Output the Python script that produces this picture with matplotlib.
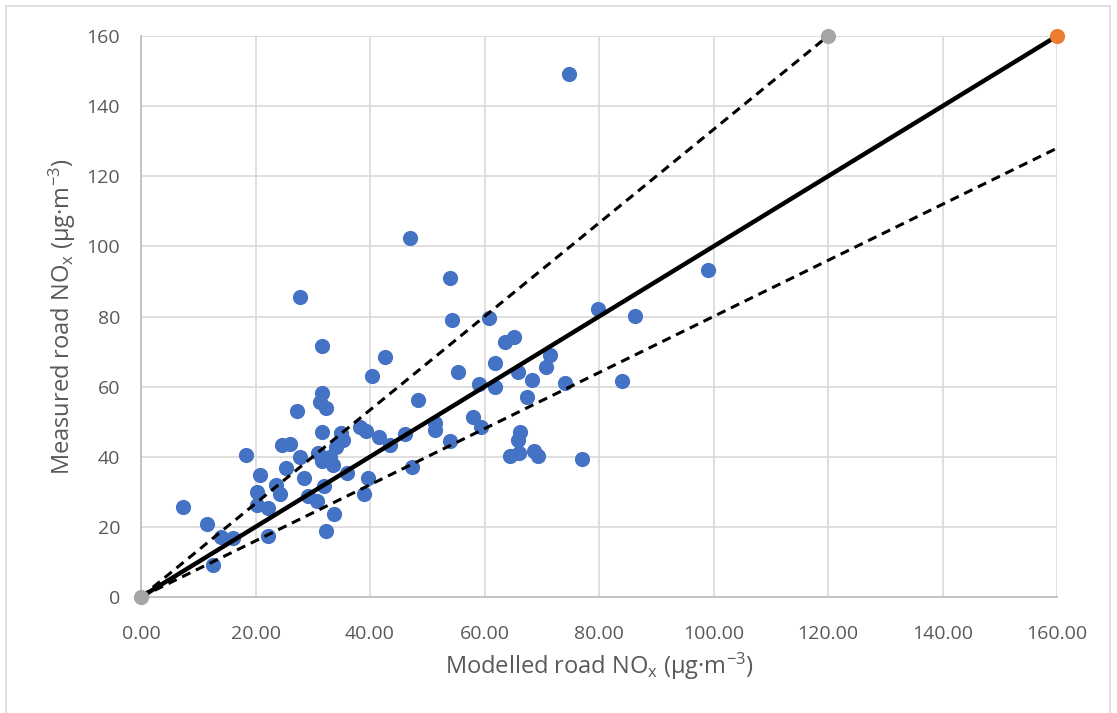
#!/usr/bin/env python3
"""Modelled vs measured road NOx scatter with 1:1 and factor lines."""

import matplotlib

matplotlib.use("Agg")
import matplotlib.pyplot as plt
from matplotlib.patches import Rectangle


modelled = [
    31.6, 42.6, 40.3, 55.4, 31.7, 31.3, 32.4, 27.2, 48.3, 31.6,
    34.9, 35.3, 34.1, 38.3, 39.3, 41.6, 43.5, 46.1, 51.4, 51.4,
    53.9, 24.6, 26.0, 18.3, 27.8, 31.0, 31.6, 33.0, 33.5, 25.4,
    20.8, 35.9, 28.5, 39.7, 32.0, 23.6, 20.3, 24.3, 29.2, 30.8,
    39.0, 47.3, 7.3, 20.2, 22.2, 11.5, 14.0, 16.1, 22.2, 33.7,
    32.3, 12.6, 32.4, 47.0, 53.9, 54.4, 60.8, 63.6, 65.2, 61.8,
    71.4, 70.7, 65.8, 68.3, 74.1, 59.1, 61.8, 67.4, 79.8, 86.3,
    99.1, 84.1, 58.0, 59.4, 66.2, 65.9, 64.5, 66.1, 68.6, 69.4,
    77.1, 27.8, 74.8,
]
measured = [
    71.7, 68.5, 63.0, 64.3, 58.3, 55.7, 53.8, 53.1, 56.2, 47.1,
    46.7, 44.8, 42.7, 48.6, 47.4, 45.7, 43.4, 46.4, 49.5, 47.6,
    44.5, 43.4, 43.6, 40.5, 40.0, 41.0, 38.9, 40.0, 37.6, 36.7,
    34.8, 35.5, 34.0, 33.9, 31.7, 31.9, 30.0, 29.4, 28.8, 27.5,
    29.4, 37.2, 25.8, 26.2, 25.3, 20.7, 17.2, 16.7, 17.5, 23.7,
    18.8, 9.1, 39.6, 102.3, 90.9, 79.0, 79.5, 72.6, 74.1, 66.8,
    69.0, 65.7, 64.3, 61.9, 61.0, 60.8, 60.0, 57.1, 82.1, 80.2,
    93.3, 61.7, 51.3, 48.6, 47.2, 44.8, 40.3, 41.2, 41.7, 40.3,
    39.4, 85.6, 149.2,
]

# reference lines: 1:1, upper factor, lower factor
one_to_one_x = [0, 160]
one_to_one_y = [0, 160]
upper_x = [0, 120]
upper_y = [0, 160]
lower_x = [0, 160]
lower_y = [0, 128]

x_ticks = [0, 20, 40, 60, 80, 100, 120, 140, 160]
y_ticks = [0, 20, 40, 60, 80, 100, 120, 140, 160]

BLUE = "#4472C4"
ORANGE = "#ED7D31"
GREY = "#A5A5A5"
TEXT = "#595959"

plt.rcParams.update({
    "font.family": ["Open Sans", "DejaVu Sans"],
    "mathtext.fontset": "custom",
    "mathtext.rm": "Open Sans",
    "mathtext.it": "Open Sans:italic",
})

fig = plt.figure(figsize=(11.17, 7.13), dpi=100)
ax = fig.add_axes([141 / 1117, 116 / 713, 916 / 1117, 561 / 713])

# chart border
fig.patches.append(Rectangle(
    (6 / 1117, -0.01), 1104 / 1117, 707 / 713 + 0.01, transform=fig.transFigure,
    fill=False, edgecolor="#d9d9d9", linewidth=1.2))

ax.set_xlim(0, 160)
ax.set_ylim(0, 160)
ax.set_xticks(x_ticks)
ax.set_yticks(y_ticks)
ax.set_xticklabels([f"{v:.2f}" for v in x_ticks])
ax.set_yticklabels([str(v) for v in y_ticks])
ax.tick_params(length=0, labelsize=14, colors=TEXT)
ax.tick_params(axis="x", pad=20)
ax.tick_params(axis="y", pad=15)
ax.grid(True, color="#d9d9d9", linewidth=1.2)
ax.set_axisbelow(True)
for side in ("top", "right"):
    ax.spines[side].set_visible(False)
for side in ("left", "bottom"):
    ax.spines[side].set_color("#bfbfbf")
    ax.spines[side].set_linewidth(1.3)

ax.scatter(modelled, measured, s=120, color=BLUE, zorder=3, linewidths=0)

ax.plot(upper_x, upper_y, color="black", linewidth=2.2, linestyle=(0, (3, 2)),
        zorder=4)
ax.plot(lower_x, lower_y, color="black", linewidth=2.2, linestyle=(0, (3, 2)),
        zorder=4)
ax.plot(one_to_one_x, one_to_one_y, color="black", linewidth=3.2, zorder=4)

ax.scatter([one_to_one_x[-1]], [one_to_one_y[-1]], s=120, color=ORANGE,
           zorder=5, clip_on=False, linewidths=0)
ax.scatter([upper_x[-1], upper_x[0]], [upper_y[-1], upper_y[0]], s=120,
           color=GREY, zorder=5, clip_on=False, linewidths=0)

ax.set_xlabel(r"Modelled road NO$_\mathregular{x}$ (µg·m$^\mathregular{-3}$)",
              fontsize=17, color=TEXT, labelpad=6)
ax.set_ylabel(r"Measured road NO$_\mathregular{x}$ (µg·m$^\mathregular{-3}$)",
              fontsize=17, color=TEXT, labelpad=6)

fig.savefig("out.png", dpi=100)
